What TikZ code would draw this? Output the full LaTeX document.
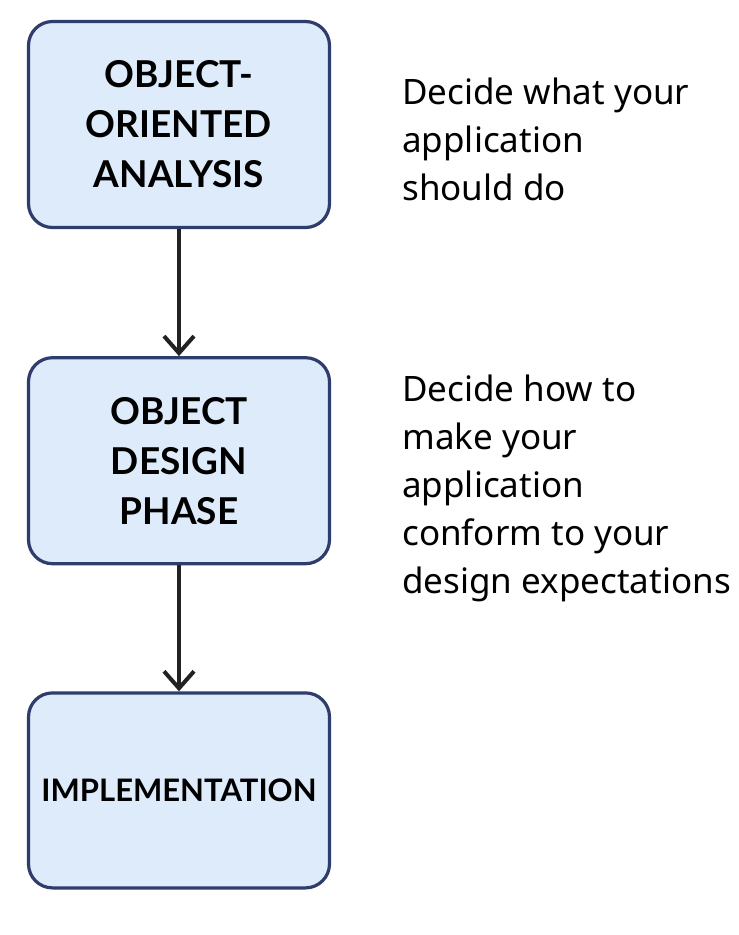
\documentclass[tikz,border=0pt]{standalone}
\usepackage{fontspec}
\usepackage{tikz}
\usetikzlibrary{arrows.meta,positioning,calc}
\newfontfamily\boxfont{Lato}
\newfontfamily\descfont{Noto Sans}
\definecolor{boxfill}{HTML}{DDEBFA}
\definecolor{boxline}{HTML}{2E3D6B}
\definecolor{flowcol}{HTML}{222222}

\begin{document}
\begin{tikzpicture}[>={Straight Barb[length=17pt,width=30pt,line width=4pt]}, x=1pt, y=1pt]
        \tikzstyle{phase}=[draw=boxline, fill=boxfill, line width=3.2pt, rounded corners=24pt,
            minimum width=301pt, minimum height=206pt, align=center, text=black,
            font=\boxfont\bfseries\fontsize{37}{50}\selectfont]
        \tikzstyle{desc}=[anchor=north west, inner sep=0pt, align=left, text=black,
            font=\descfont\fontsize{35}{48}\selectfont]
        \tikzstyle{flowline}=[->, line width=4pt, flowcol]
        \useasboundingbox (0,0) rectangle (739,-935);
        \node[phase]    (OOA)   at (179,-124.5)     {OBJECT-\\ORIENTED\\ANALYSIS};
        \node[phase]    (ODP)   [below=127pt of OOA]    {OBJECT\\DESIGN\\PHASE};
        \node[phase, minimum height=195pt, font=\boxfont\bfseries\fontsize{31}{40}\selectfont]
            (Impl)  [below=126pt of ODP]    {IMPLEMENTATION};
        \node[desc]     (D_what) at ([xshift=71pt,yshift=-58pt]OOA.north east)
            {Decide what your\\application\\should do};
        \node[desc]     (D_how) at ([xshift=71pt,yshift=-19pt]ODP.north east)
            {Decide how to\\make your\\application\\conform to your\\design expectations};
        \draw[flowline] (OOA.south) -- (ODP.north);
        \draw[flowline] (ODP.south) -- (Impl.north);
\end{tikzpicture}
\end{document}
